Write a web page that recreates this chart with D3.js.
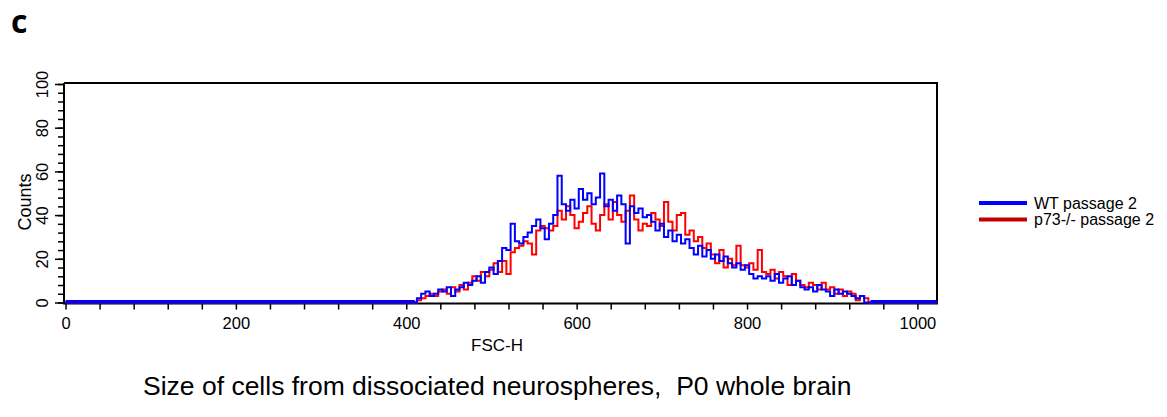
<!DOCTYPE html>
<html>
<head>
<meta charset="utf-8">
<script src="https://cdn.jsdelivr.net/npm/d3@7"></script>
<style>
  html, body { margin: 0; padding: 0; background: #fff; }
  svg { display: block; }
  text { font-family: "Liberation Sans", Arial, sans-serif; fill: #000; }
</style>
</head>
<body>
<svg id="chart" width="1167" height="417"></svg>
<script>
// ---- data (FSC-H channel bins, step 5, from 410 to 945) ----
const binStart = 410, binStep = 5;
const wtPassage2 = [
  0, 2, 4, 5, 3, 4, 6, 5, 7, 3, 6, 7, 9, 8, 10, 12, 9, 14, 16, 13,
  19, 25, 24, 36, 28, 27, 30, 32, 35, 38, 34, 29, 36, 40, 58, 45, 42, 47, 43, 52,
  47, 50, 45, 48, 59, 44, 47, 42, 49, 45, 27, 44, 41, 43, 39, 40, 37, 33, 36, 30,
  33, 28, 31, 27, 29, 25, 22, 26, 21, 24, 20, 22, 19, 21, 18, 16, 18, 15, 17, 13,
  11, 12, 11, 12, 10, 13, 9, 11, 12, 8, 10, 7, 6, 7, 5, 8, 6, 5, 3, 6,
  4, 5, 4, 3, 2, 3, 0, 0
];
const p73Passage2 = [
  0, 1, 2, 3, 4, 3, 5, 6, 4, 7, 5, 8, 6, 9, 12, 10, 14, 12, 15, 18,
  14, 19, 13, 23, 25, 26, 28, 27, 22, 33, 35, 34, 33, 35, 42, 38, 44, 40, 34, 37,
  41, 44, 36, 33, 40, 45, 38, 46, 40, 37, 42, 49, 38, 33, 36, 35, 41, 38, 35, 46,
  37, 33, 40, 41, 31, 33, 28, 30, 25, 27, 22, 18, 24, 16, 20, 17, 26, 17, 16, 18,
  15, 24, 14, 13, 15, 11, 14, 12, 8, 13, 10, 8, 7, 9, 8, 6, 9, 6, 7, 4,
  6, 3, 5, 4, 1, 3, 2, 0
];
const channelMax = 1023;
const xTickLabels = [0, 200, 400, 600, 800, 1000];
const yTickLabels = [0, 20, 40, 60, 80, 100];
const seriesNames = ["WT passage 2", "p73-/- passage 2"];
const lineColors = ["#0000ff", "#ff0000"];
const legendColors = ["#0000ff", "#c00000"];
const xLabel = "FSC-H", yLabel = "Counts";
const panelLabel = "c";
const caption = "Size of cells from dissociated neurospheres,\u00a0\u00a0P0 whole brain";

// ---- build ----
function toPoints(vals) {
  const pts = [[0, 0]];
  vals.forEach((v, i) => pts.push([binStart + i * binStep, v]));
  pts.push([channelMax, 0]);
  return pts;
}

const svg = d3.select("#chart");
const x = d3.scaleLinear().domain([0, channelMax]).range([65.5, 937]);
const y = d3.scaleLinear().domain([0, 100]).range([302.5, 84]);

svg.append("text").attr("x", 11).attr("y", 33)
  .style("font-family", "'Open Sans', 'DejaVu Sans', sans-serif")
  .style("font-weight", "bold").style("font-size", "32px").text(panelLabel);

// frame (top + right)
svg.append("path")
  .attr("d", `M${x(0) - 1.5},${y(100) - 1}H${x(channelMax)}V${y(0)}`)
  .attr("fill", "none").attr("stroke", "#000").attr("stroke-width", 2);

// y axis: minor ticks every 4, major every 20
const yTicks = d3.range(0, 101, 4);
const yAxis = d3.axisLeft(y).tickValues(yTicks).tickSize(6).tickFormat("");
const gy = svg.append("g").attr("transform", `translate(${x(0) - 1.5},0)`).call(yAxis);
gy.select(".domain").attr("stroke-width", 2).attr("d", `M0,${y(100) - 1}V${y(0) + 1}`);
gy.selectAll(".tick line").attr("stroke-width", 1.5);
const yMajor = d3.axisLeft(y).tickValues(yTickLabels).tickSize(9).tickFormat(d3.format("d"));
const gy2 = svg.append("g").attr("transform", `translate(${x(0) - 1.5},0)`).call(yMajor);
gy2.select(".domain").remove();
gy2.selectAll(".tick line").attr("stroke-width", 1.5);
gy2.selectAll(".tick text")
  .attr("x", 0).attr("y", 0).attr("dy", "0.35em")
  .attr("text-anchor", "middle")
  .attr("transform", "translate(-22,0) rotate(-90)")
  .style("font-family", "'Liberation Sans', Arial, sans-serif")
  .style("font-size", "16.5px");

svg.append("text")
  .attr("transform", `translate(25,${202}) rotate(-90)`)
  .attr("text-anchor", "middle").attr("dy", "0.35em")
  .style("font-size", "18px").text(yLabel);

// x axis: ticks every 40, labels every 200
const xTicks = d3.range(0, 1001, 40);
const xAxis = d3.axisBottom(x).tickValues(xTicks).tickSize(6)
  .tickFormat(d => xTickLabels.includes(d) ? d : "");
const gx = svg.append("g").attr("transform", `translate(0,${y(0) + 1})`).call(xAxis);
gx.select(".domain").attr("stroke-width", 2).attr("d", `M${x(0) - 2.5},0H${x(channelMax) + 1}`);
gx.selectAll(".tick line").attr("stroke-width", 1.5);
gx.selectAll(".tick text").attr("y", 14)
  .style("font-family", "'Liberation Sans', Arial, sans-serif")
  .style("font-size", "16.5px");

svg.append("text").attr("x", 497).attr("y", 351).attr("text-anchor", "middle")
  .style("font-size", "17px").text(xLabel);

// data lines
const line = d3.line().x(d => x(d[0])).y(d => y(d[1])).curve(d3.curveStep);
const plot = svg.append("g");
plot.append("path").datum(toPoints(p73Passage2))
  .attr("fill", "none").attr("stroke", lineColors[1]).attr("stroke-width", 2)
  .attr("d", line);
plot.append("path").datum(toPoints(wtPassage2))
  .attr("fill", "none").attr("stroke", lineColors[0]).attr("stroke-width", 2)
  .attr("d", line);
// baseline zero segments (blue, thicker)
plot.append("path")
  .attr("d", `M${x(0)},${y(0) - 1}H${x(binStart)}M${x(945)},${y(0) - 1}H${x(channelMax)}`)
  .attr("stroke", lineColors[0]).attr("stroke-width", 3).attr("fill", "none");

// legend
const lg = svg.append("g");
seriesNames.forEach((name, i) => {
  const yy = 203 + i * 16.5;
  lg.append("line").attr("x1", 979).attr("x2", 1027).attr("y1", yy).attr("y2", yy)
    .attr("stroke", legendColors[i]).attr("stroke-width", 4);
  lg.append("text").attr("x", 1034).attr("y", yy).attr("dy", "0.35em")
    .style("font-size", "16px").text(name);
});

// caption
svg.append("text").attr("x", 143).attr("y", 395)
  .style("font-size", "26.5px").text(caption);
</script>
</body>
</html>
